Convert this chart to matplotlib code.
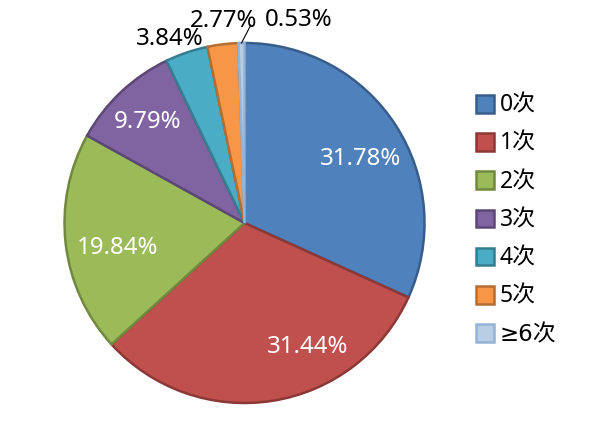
import matplotlib.pyplot as plt
import numpy as np

plt.rcParams['font.family'] = ['Noto Sans', 'Noto Sans CJK SC', 'DejaVu Sans']

labels = ['0次', '1次', '2次', '3次', '4次', '5次', '≥6次']
values = [31.78, 31.44, 19.84, 9.79, 3.84, 2.77, 0.53]
colors = ['#4F81BD', '#C0504D', '#9BBB59', '#8064A2', '#4BACC6', '#F79646', '#B9CDE5']
edges = ['#385D8A', '#8C3836', '#71893F', '#5C4776', '#357D91', '#B66D31', '#95B3D7']
# label positions (pie radius = 1)
label_pos = [(0.644, 0.356), (0.353, -0.689), (-0.706, -0.139), (-0.539, 0.561),
             (-0.414, 1.022), (-0.117, 1.122), (0.30, 1.125)]

fig = plt.figure(figsize=(5.94, 4.45), dpi=100)
ax = fig.add_axes([(244.5 - 180) / 594, (445 - 403) / 445, 360 / 594, 360 / 445])

wedges, _ = ax.pie(values, colors=colors, startangle=90, counterclock=False,
                   radius=1.0, wedgeprops=dict(linewidth=1.8))
for w, ec in zip(wedges, edges):
    w.set_edgecolor(ec)

for i, (v, (x, y)) in enumerate(zip(values, label_pos)):
    c = 'white' if i < 4 else 'black'
    ax.text(x, y, f'{v:.2f}%', color=c, fontsize=17.3, ha='center', va='center')

# leader line for the smallest slice
w6 = wedges[6]
ang6 = np.deg2rad((w6.theta1 + w6.theta2) / 2)
ax.plot([np.cos(ang6), 0.035], [np.sin(ang6), 1.1], color='black', lw=0.8,
        clip_on=False)

ax.set_xlim(-1, 1)
ax.set_ylim(-1, 1)
ax.set_aspect('equal')

leg = fig.legend(wedges, labels, loc='center left', bbox_to_anchor=(0.766, 0.506),
                 frameon=False, fontsize=16.5, handlelength=0.8, handleheight=0.8,
                 handletextpad=0.25, labelspacing=0.62)
leg.get_texts()[-1].set_family(['DejaVu Sans', 'Noto Sans CJK SC'])

fig.savefig('out.png', dpi=100)
